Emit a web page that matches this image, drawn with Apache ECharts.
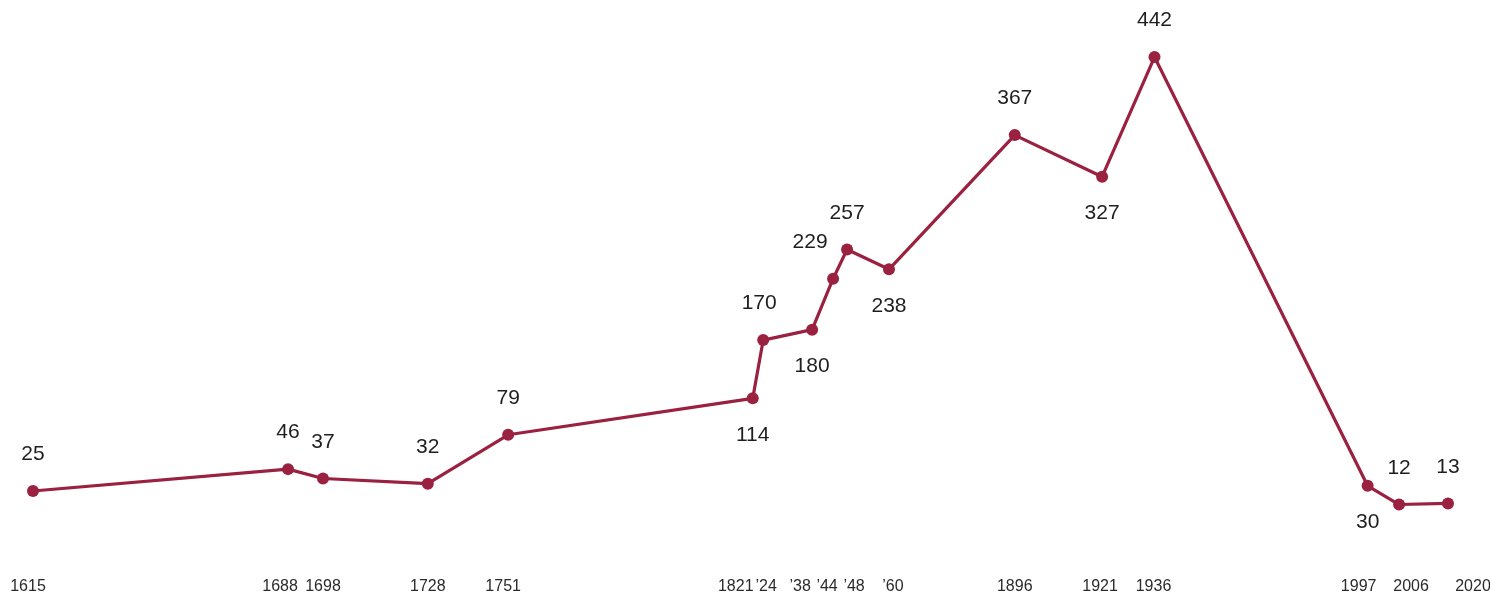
<!DOCTYPE html>
<html>
<head>
<meta charset="utf-8">
<script src="https://cdn.jsdelivr.net/npm/echarts@6/dist/echarts.min.js"></script>
<style>
html,body{margin:0;padding:0;background:#fff;}
#chart{width:1490px;height:595px;}
</style>
</head>
<body>
<div id="chart"></div>
<script>
// ---- data ----
const years  = [1615,1688,1698,1728,1751,1821,1824,1838,1844,1848,1860,1896,1921,1936,1997,2006,2020];
const values = [25,46,37,32,79,114,170,180,229,257,238,367,327,442,30,12,13];
const tickYears  = [1615,1688,1698,1728,1751,1821,1824,1838,1844,1848,1860,1896,1921,1936,1997,2006,2020];
const tickLabels = ['1615','1688','1698','1728','1751','1821','\u201924','\u201938','\u201944','\u201948','\u201960','1896','1921','1936','1997','2006','2020'];

// ---- presentation (label placement / nudges) ----
const labelSide = ['top','top','top','top','top','bottom','top','bottom','top','top','bottom','top','bottom','top','bottom','top','top'];
const labelShiftX = {1824:-4, 1844:-23};
const tickNudge = [-5,-8,0,0,-5,-17,3,-12,-6,7,4,0,-2,-1,-9,12,25];

const COLOR = '#9a2140';
const rich = {};
tickNudge.forEach((n, i) => {
  rich['t' + i] = {
    fontFamily: '"Liberation Sans Narrow","Arial Narrow","Liberation Sans",Arial,sans-serif',
    fontSize: 16,
    color: '#2a2a2a',
    padding: n < 0 ? [0, -2 * n, 0, 0] : [0, 0, 0, 2 * n]
  };
});

const seriesData = years.map((y, i) => {
  const d = { value: [y, values[i]], label: { position: labelSide[i] } };
  if (labelShiftX[y] !== undefined) d.label.offset = [labelShiftX[y], 0];
  return d;
});

const chart = echarts.init(document.getElementById('chart'), null, { renderer: 'canvas' });
chart.setOption({
  backgroundColor: '#fff',
  animation: false,
  grid: { left: 33, right: 42, top: 48.7, bottom: 78, containLabel: false, outerBoundsMode: 'none' },
  xAxis: {
    type: 'value',
    min: 1615,
    max: 2020,
    axisLine: { show: false },
    axisTick: { show: false },
    splitLine: { show: false },
    axisLabel: {
      customValues: tickYears,
      hideOverlap: false,
      showMinLabel: true,
      showMaxLabel: true,
      margin: 62,
      formatter: function (v) {
        const i = tickYears.indexOf(v);
        if (i < 0) return '';
        return '{t' + i + '|' + tickLabels[i] + '}';
      },
      rich: rich
    }
  },
  yAxis: {
    type: 'value',
    min: 0,
    max: 450,
    show: false,
    splitLine: { show: false }
  },
  series: [{
    type: 'line',
    data: seriesData,
    symbol: 'circle',
    symbolSize: 12,
    lineStyle: { color: COLOR, width: 3.2 },
    itemStyle: { color: COLOR },
    label: {
      show: true,
      distance: 20,
      fontFamily: '"Liberation Sans",Arial,sans-serif',
      fontSize: 21,
      color: '#1e1e1e',
      formatter: p => p.value[1]
    }
  }]
});
</script>
</body>
</html>
